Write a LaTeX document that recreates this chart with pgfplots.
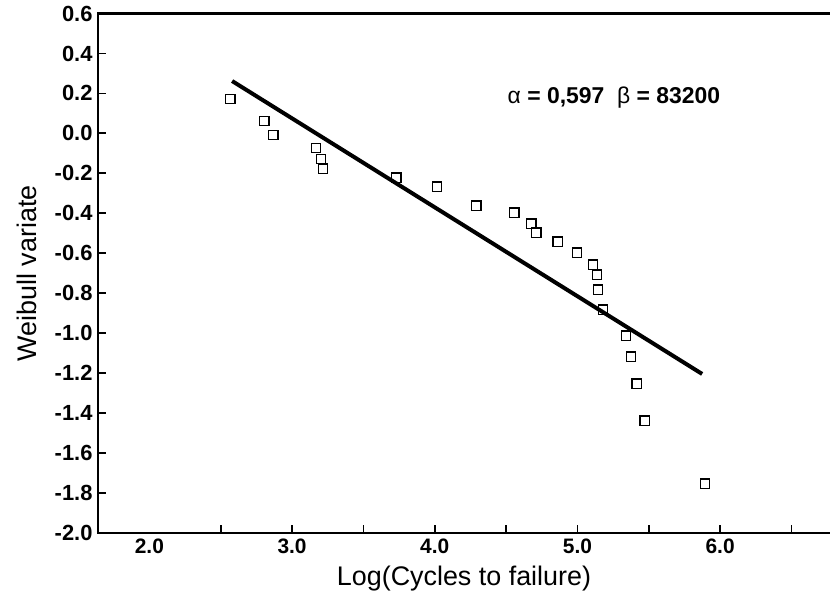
\documentclass[border=0pt]{standalone}
\usepackage{pgfplots}
\pgfplotsset{compat=1.18}
\usepackage{fontspec}
\setmainfont{Liberation Sans}
\newcommand{\ytickfont}{\bfseries\fontsize{22}{24}\selectfont}
\newcommand{\xtickfont}{\bfseries\fontsize{21}{23}\selectfont}
\begin{document}
\begin{tikzpicture}
\begin{axis}[
  name=ax,
  scale only axis,
  width=732bp, height=519.5bp,
  xmin=1.64, xmax=6.77,
  ymin=-2.0, ymax=0.6,
  axis line style={draw=none},
  tick align=inside,
  xtick pos=bottom, ytick pos=left,
  major tick length=8bp,
  every tick/.style={black, line width=1.8bp},
  xtick={2.5,3,3.5,4,4.5,5,5.5,6,6.5},
  xticklabels={,3.0,,4.0,,5.0,,6.0,},
  extra x ticks={2},
  extra x tick labels={2.0},
  extra x tick style={major tick length=0pt},
  ytick={-2.0,-1.8,...,0.61},
  /pgf/number format/assume math mode=true,
  yticklabel={\pgfmathprintnumber[fixed,precision=1,zerofill]{\tick}},
  xticklabel style={font=\xtickfont, yshift=-2bp},
  yticklabel style={font=\ytickfont, xshift=-2bp},
  every axis x label/.style={at={(axis description cs:0.5,-0.088)}, anchor=center},
  every axis y label/.style={at={(axis description cs:-0.097,0.5)}, anchor=center, rotate=90},
  label style={font=\fontsize{27}{30}\selectfont},
  xlabel={Log(Cycles to failure)},
  ylabel={Weibull variate},
  clip=false,
]
\draw[line width=2.4bp] (rel axis cs:1,1) -- (rel axis cs:0,1) -- (rel axis cs:0,0) -- (rel axis cs:1,0);
\addplot[only marks, mark=square, mark size=4.8bp, line width=1.3bp, black] coordinates {
 (2.566,0.172) (2.804,0.062) (2.867,-0.008) (3.168,-0.073) (3.203,-0.128)
 (3.217,-0.178) (3.729,-0.223) (4.016,-0.268) (4.290,-0.363) (4.556,-0.398)
 (4.675,-0.453) (4.710,-0.498) (4.863,-0.543) (4.997,-0.598) (5.109,-0.658)
 (5.137,-0.708) (5.144,-0.783) (5.179,-0.883) (5.340,-1.013) (5.375,-1.118)
 (5.417,-1.253) (5.473,-1.438) (5.894,-1.754)
};
\addplot[black, line width=4bp, no marks] coordinates {(2.580,0.262) (5.874,-1.204)};
\node[font=\fontsize{23}{25}\selectfont] at (axis cs:5.256,0.179) {α \textbf{= 0,597}\ \ β \textbf{= 83200}};
\end{axis}
\pgfresetboundingbox
\path[use as bounding box] ([xshift=-98bp,yshift=-63bp]ax.south west) rectangle ([yshift=13.5bp]ax.north east);
\end{tikzpicture}
\end{document}
